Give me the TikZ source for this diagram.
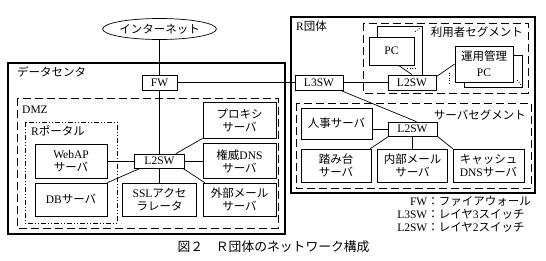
\documentclass[tikz,border=0pt]{standalone}
\usepackage{fontspec}
\setmainfont{Liberation Serif}
\newfontfamily\jp{Noto Sans CJK JP}
\usetikzlibrary{shapes.geometric,calc}
\newcommand\J[1]{{\jp #1}}
\newcommand\bxfont{\fontsize{11.5}{13}\selectfont}
\begin{document}
\begin{tikzpicture}[x=1pt,y=-1pt,
  box/.style={draw, fill=white, line width=0.7pt, inner sep=0pt, align=center, font=\bxfont},
  cont/.style={draw, line width=1.1pt},
  seg/.style={draw, line width=0.8pt, dash pattern=on 8pt off 4pt},
  portal/.style={draw, line width=0.8pt, dash pattern=on 5pt off 2pt on 1pt off 2pt on 1pt off 2pt},
  link/.style={line width=0.7pt},
  lbl/.style={inner sep=0pt, font=\bxfont},
  dots/.style={line width=0.7pt, dash pattern=on 0.8pt off 1.6pt}]
\useasboundingbox (0,0) rectangle (546,260);
% containers
\draw[cont] (8,63) rectangle (285,234);
\node[lbl, anchor=west] (dclbl) at (17,72) {\J{データセンタ}};
\draw[seg] (17,98) rectangle (278,228);
\node[lbl, anchor=west] (dmzlbl) at (22,110) {DMZ};
\draw[portal] (25,122) rectangle (117,223);
\node[lbl, anchor=west] (portlbl) at (31,131) {R\J{ポータル}};
\draw[cont] (291,17) rectangle (535,193);
\node[lbl, anchor=west] (rlbl) at (296,26) {R\J{団体}};
\draw[seg] (363,23) rectangle (528,93);
\node[lbl, anchor=east] (ulbl) at (523,32) {\J{利用者セグメント}};
\draw[seg] (296,103) rectangle (531,188);
\node[lbl, anchor=east] (slbl) at (526,115) {\J{サーバセグメント}};
% internet
\node[draw, ellipse, line width=0.7pt, minimum width=112, minimum height=21, inner sep=0pt, font=\bxfont] (inet) at (159.5,29) {\J{インターネット}};
% data center nodes
\node[box, minimum width=35, minimum height=15] (fw) at (159.5,82.5) {FW};
\node[box, minimum width=50, minimum height=14] (l2d) at (159.5,161) {L2SW};
\node[box, minimum width=72, minimum height=34] (webap) at (71,161) {WebAP\\\J{サーバ}};
\node[box, minimum width=72, minimum height=33] (db) at (71,199.5) {DB\J{サーバ}};
\node[box, minimum width=74, minimum height=33] (ssl) at (159.5,199.5) {SSL\J{アクセ}\\\J{ラレータ}};
\node[box, minimum width=73, minimum height=36] (proxy) at (239.5,120) {\J{プロキシ}\\\J{サーバ}};
\node[box, minimum width=73, minimum height=35] (auth) at (239.5,161) {\J{権威}DNS\\\J{サーバ}};
\node[box, minimum width=73, minimum height=33] (ext) at (239.5,199.5) {\J{外部メール}\\\J{サーバ}};
% R org nodes
\node[box, minimum width=48, minimum height=15] (l3sw) at (319,82.5) {L3SW};
\node[box, minimum width=48, minimum height=15] (l2u) at (412,82.5) {L2SW};
\node[fill=white, inner sep=0pt, minimum width=44, minimum height=38] (pcb) at (400,46) {};
\draw[link] (pcb.south west) -- (pcb.north west) -- (pcb.north east) -- (pcb.south east);
\node[box, minimum width=45, minimum height=28] (pcf) at (391.5,51) {PC};
\node[box, minimum width=58, minimum height=32] (opcb) at (493,71) {};
\node[box, minimum width=58, minimum height=36] (opcf) at (484,64) {\J{運用管理}\\[3pt]PC};
\node[box, minimum width=71, minimum height=31] (jinji) at (336.5,123.5) {\J{人事サーバ}};
\node[box, minimum width=49, minimum height=14] (l2s) at (412.5,129) {L2SW};
\node[box, minimum width=70, minimum height=33] (fumi) at (336,165.5) {\J{踏み台}\\\J{サーバ}};
\node[box, minimum width=70, minimum height=33] (naibu) at (412.5,165.5) {\J{内部メール}\\\J{サーバ}};
\node[box, minimum width=71, minimum height=33] (cache) at (488.5,165.5) {\J{キャッシュ}\\DNS\J{サーバ}};
% connectors
\draw[link] (inet.south) -- (fw.north);
\draw[link] (fw.east) -- (l3sw.west);
\draw[link] (fw.south) -- (l2d.north);
\draw[link] (l2d.west) -- (webap.east);
\draw[link] (l2d.east) -- (auth.west);
\draw[link] (l2d.south) -- (ssl.north);
\draw[link] ([xshift=6pt]l2d.south west) -- (db.north east);
\draw[link] ([xshift=-9pt]l2d.north east) -- (proxy.south west);
\draw[link] ([xshift=-2pt]l2d.south east) -- ([xshift=2pt]ext.north west);
\draw[link] (l3sw.east) -- (l2u.west);
\draw[link] ([xshift=-3pt]l3sw.south east) -- ([xshift=4pt]l2s.north);
\draw[link] ([xshift=7pt]pcf.south) -- (l2u.north);
\draw[link] (pcb.south east) -- (pcb.south east |- l2u.north);
\draw[dots] ([xshift=-7pt,yshift=-2.5pt]pcf.south east) -- ([xshift=1pt,yshift=-2.5pt]pcf.south east);
\draw[dots] ([xshift=-7pt,yshift=-5pt]pcb.north east) -- ([xshift=-2pt,yshift=-1pt]pcb.north east);
\draw[link] ([yshift=-2pt]l2u.north east) -- (opcf.west);
\draw[dots] ([xshift=-5pt,yshift=-9pt]opcf.west) -- ([xshift=-5pt,yshift=-19pt]opcf.west);
\draw[dots] ([xshift=-5pt,yshift=7pt]opcb.south east) -- ([xshift=-1pt,yshift=2pt]opcb.south east);
\draw[link] (jinji.east |- l2s.west) -- (l2s.west);
\draw[link] ([xshift=1pt]l2s.south west) -- ([xshift=-1pt]fumi.north east);
\draw[link] (l2s.south) -- (naibu.north);
\draw[link] (l2s.south east) -- (cache.north west);
% legend and caption
\node[anchor=east, inner sep=0pt, font=\bxfont] (legend) at (531,216) {\begin{tabular}{@{}r@{}l@{}}FW&\J{：ファイアウォール}\\L3SW&\J{：レイヤ}3\J{スイッチ}\\L2SW&\J{：レイヤ}2\J{スイッチ}\end{tabular}};
\node[inner sep=0pt, font=\jp\fontsize{12.8}{14}\selectfont] (cap) at (273.5,247) {図２　Ｒ団体のネットワーク構成};
\end{tikzpicture}
\end{document}
